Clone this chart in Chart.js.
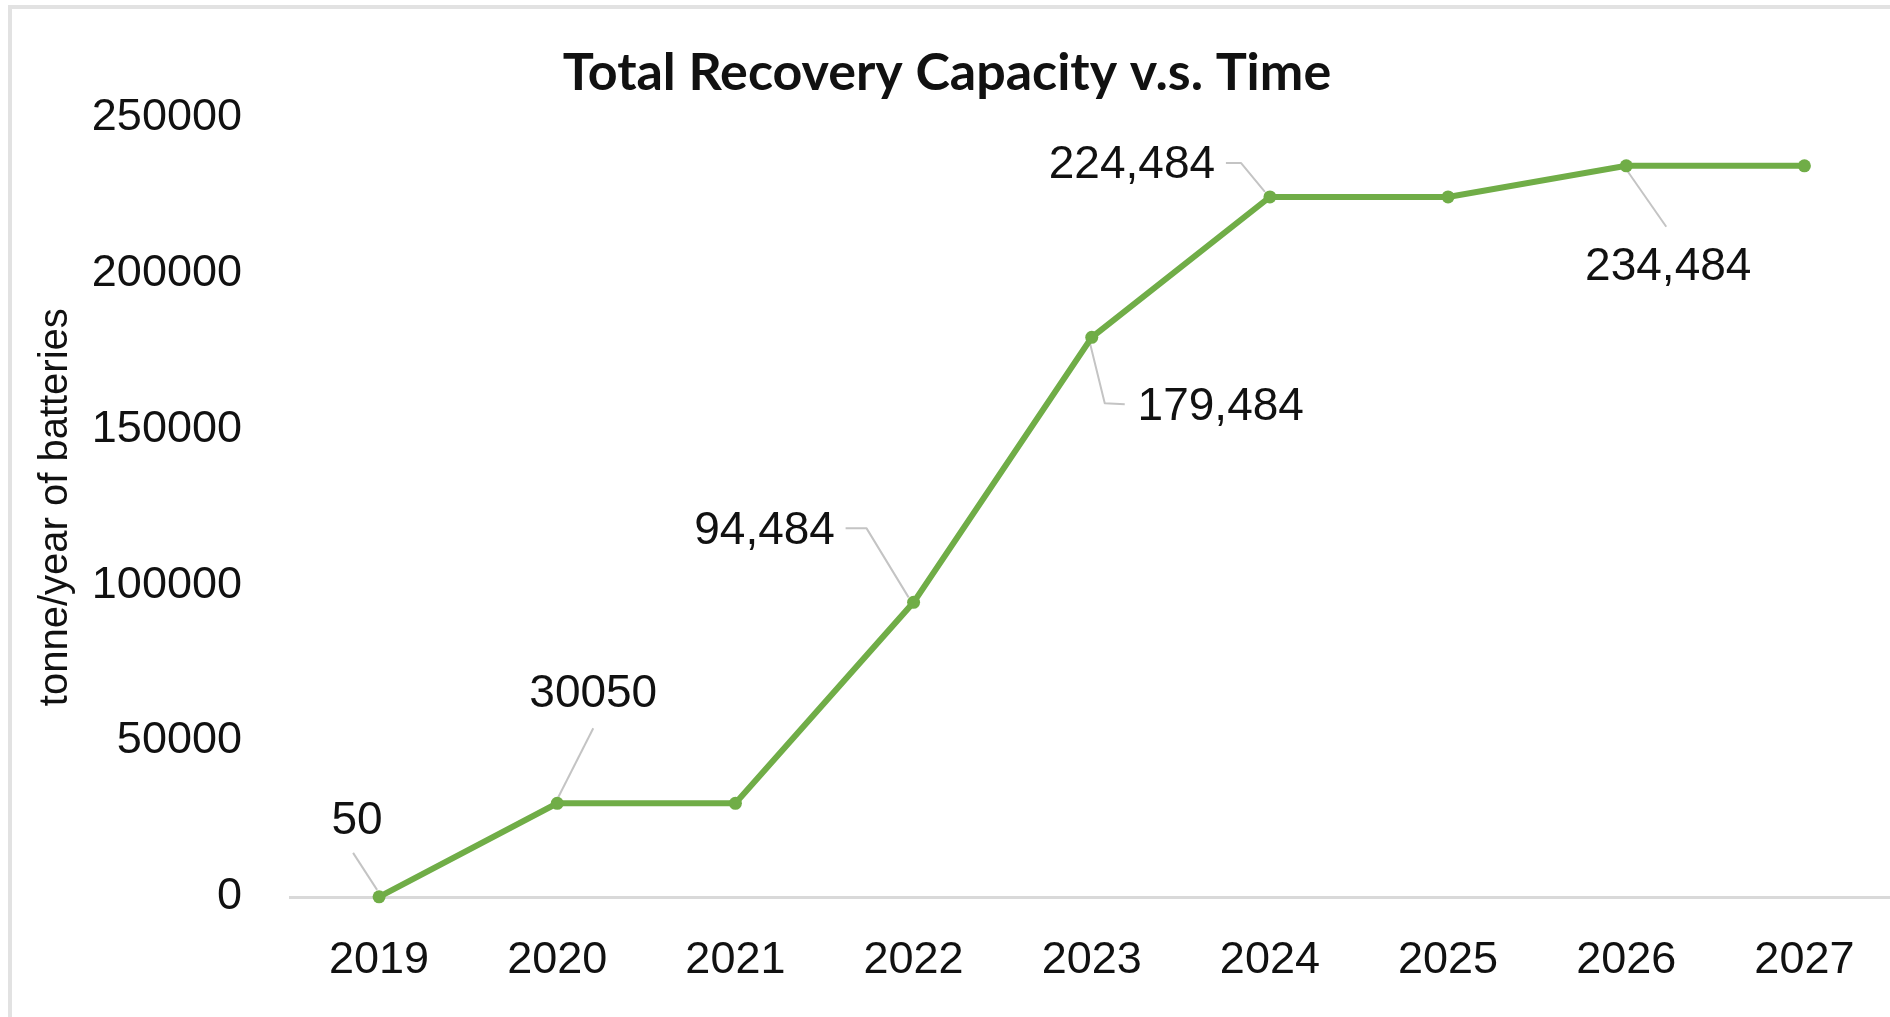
<!DOCTYPE html>
<html>
<head>
<meta charset="utf-8">
<title>Total Recovery Capacity v.s. Time</title>
<script src="https://cdn.jsdelivr.net/npm/chart.js@4.4.1/dist/chart.umd.min.js"></script>
<style>
  html, body { margin: 0; padding: 0; background: #ffffff; overflow: hidden; }
  #frame {
    position: absolute; left: 8px; top: 5px; width: 2000px; height: 2000px;
    border-left: 4px solid #e2e2e2; border-top: 4px solid #e2e2e2;
  }
  #wrap { position: absolute; left: 0; top: 0; width: 1900px; height: 1017px; }
</style>
</head>
<body>
<div id="frame"></div>
<div id="wrap"><canvas id="chart" width="1900" height="1017" style="width:1900px;height:1017px"></canvas></div>
<script>
// Chart text
const chartTitle = 'Total Recovery Capacity v.s. Time';
const yAxisTitle = 'tonne/year of batteries';

// Years on the horizontal axis
const years = ['2019', '2020', '2021', '2022', '2023', '2024', '2025', '2026', '2027'];

// Total recovery capacity, tonne/year of batteries
const capacity = [50, 30050, 30050, 94484, 179484, 224484, 224484, 234484, 234484];

// Value axis ticks
const yTickValues = [0, 50000, 100000, 150000, 200000, 250000];

// Which points carry a value label, and how the number is written
const labelFormat = ['plain', 'plain', null, 'grouped', 'grouped', 'grouped', null, 'grouped', null];

// Label placement relative to its point (pixels), with the leader line path
const calloutPlacement = {
  0: { dx: -22, dy: -76, leader: [[-26, -44], [-2, -7]] },
  1: { dx: 36, dy: -109, leader: [[36, -75], [1, -6]] },
  3: { dx: -149, dy: -71, leader: [[-68, -74], [-47, -74], [-5, -5]] },
  4: { dx: 129, dy: 70, leader: [[-2, 5], [13, 66], [33, 67]] },
  5: { dx: -138, dy: -32, leader: [[-44, -34], [-29, -34], [-5, -5]] },
  7: { dx: 42, dy: 102, leader: [[1, 5], [40, 61]] }
};

const GREEN = '#70AD47';
const TEXT = '#111111';
const labelFont = "46px 'Liberation Sans', Arial, sans-serif";

function formatValue(v, style) {
  return style === 'grouped' ? v.toLocaleString('en-US') : String(v);
}

// Draws the value callouts: grey leader lines under the series, text on top
const calloutLabels = {
  id: 'calloutLabels',
  beforeDatasetsDraw(chart) {
    const pts = chart.getDatasetMeta(0).data;
    const ctx = chart.ctx;
    ctx.save();
    ctx.strokeStyle = '#c4c4c4';
    ctx.lineWidth = 2;
    ctx.lineJoin = 'round';
    Object.keys(calloutPlacement).forEach(k => {
      const p = pts[+k];
      if (!p || !labelFormat[+k]) return;
      const path = calloutPlacement[k].leader;
      ctx.beginPath();
      path.forEach(([ox, oy], i) => {
        if (i === 0) ctx.moveTo(p.x + ox, p.y + oy);
        else ctx.lineTo(p.x + ox, p.y + oy);
      });
      ctx.stroke();
    });
    ctx.restore();
  },
  afterDatasetsDraw(chart) {
    const pts = chart.getDatasetMeta(0).data;
    const ctx = chart.ctx;
    ctx.save();
    ctx.font = labelFont;
    ctx.fillStyle = TEXT;
    ctx.textAlign = 'center';
    ctx.textBaseline = 'middle';
    capacity.forEach((v, i) => {
      const style = labelFormat[i];
      const place = calloutPlacement[i];
      if (!style || !place) return;
      const p = pts[i];
      ctx.fillText(formatValue(v, style), p.x + place.dx, p.y + place.dy);
    });
    ctx.restore();
  }
};

new Chart(document.getElementById('chart'), {
  type: 'line',
  data: {
    labels: years,
    datasets: [{
      data: capacity,
      borderColor: GREEN,
      backgroundColor: GREEN,
      borderWidth: 6,
      tension: 0,
      pointRadius: 6.5,
      pointBackgroundColor: GREEN,
      pointBorderWidth: 0,
      clip: false
    }]
  },
  plugins: [calloutLabels],
  options: {
    responsive: false,
    animation: false,
    devicePixelRatio: 1,
    layout: { padding: { left: 0, right: 6, top: 0, bottom: 0 } },
    plugins: {
      legend: { display: false },
      tooltip: { enabled: false },
      title: {
        display: true,
        text: chartTitle,
        color: TEXT,
        font: { family: "Lato, 'Liberation Sans', sans-serif", size: 52, weight: 'bold', lineHeight: 1.2 },
        padding: { top: 42, bottom: 13 }
      }
    },
    scales: {
      x: {
        type: 'category',
        offset: true,
        grid: { display: false, drawTicks: false },
        border: { display: true, color: '#d9d9d9', width: 3 },
        ticks: {
          color: TEXT,
          font: { family: "'Liberation Sans', Arial, sans-serif", size: 45 },
          padding: 37,
          maxRotation: 0,
          autoSkip: false
        },
        afterFit(scale) { scale.height = 120; }
      },
      y: {
        min: yTickValues[0],
        max: yTickValues[yTickValues.length - 1],
        grid: { display: false, drawTicks: false },
        border: { display: false },
        afterBuildTicks(scale) { scale.ticks = yTickValues.map(v => ({ value: v })); },
        ticks: {
          color: TEXT,
          font: { family: "'Liberation Sans', Arial, sans-serif", size: 45 },
          padding: 48,
          callback: v => String(v)
        },
        title: {
          display: true,
          text: yAxisTitle,
          color: TEXT,
          font: { family: "'Liberation Sans', Arial, sans-serif", size: 40, lineHeight: 1.2 },
          padding: { top: 32, bottom: 0 }
        },
        afterFit(scale) { scale.width = 290; }
      }
    }
  }
});
</script>
</body>
</html>
